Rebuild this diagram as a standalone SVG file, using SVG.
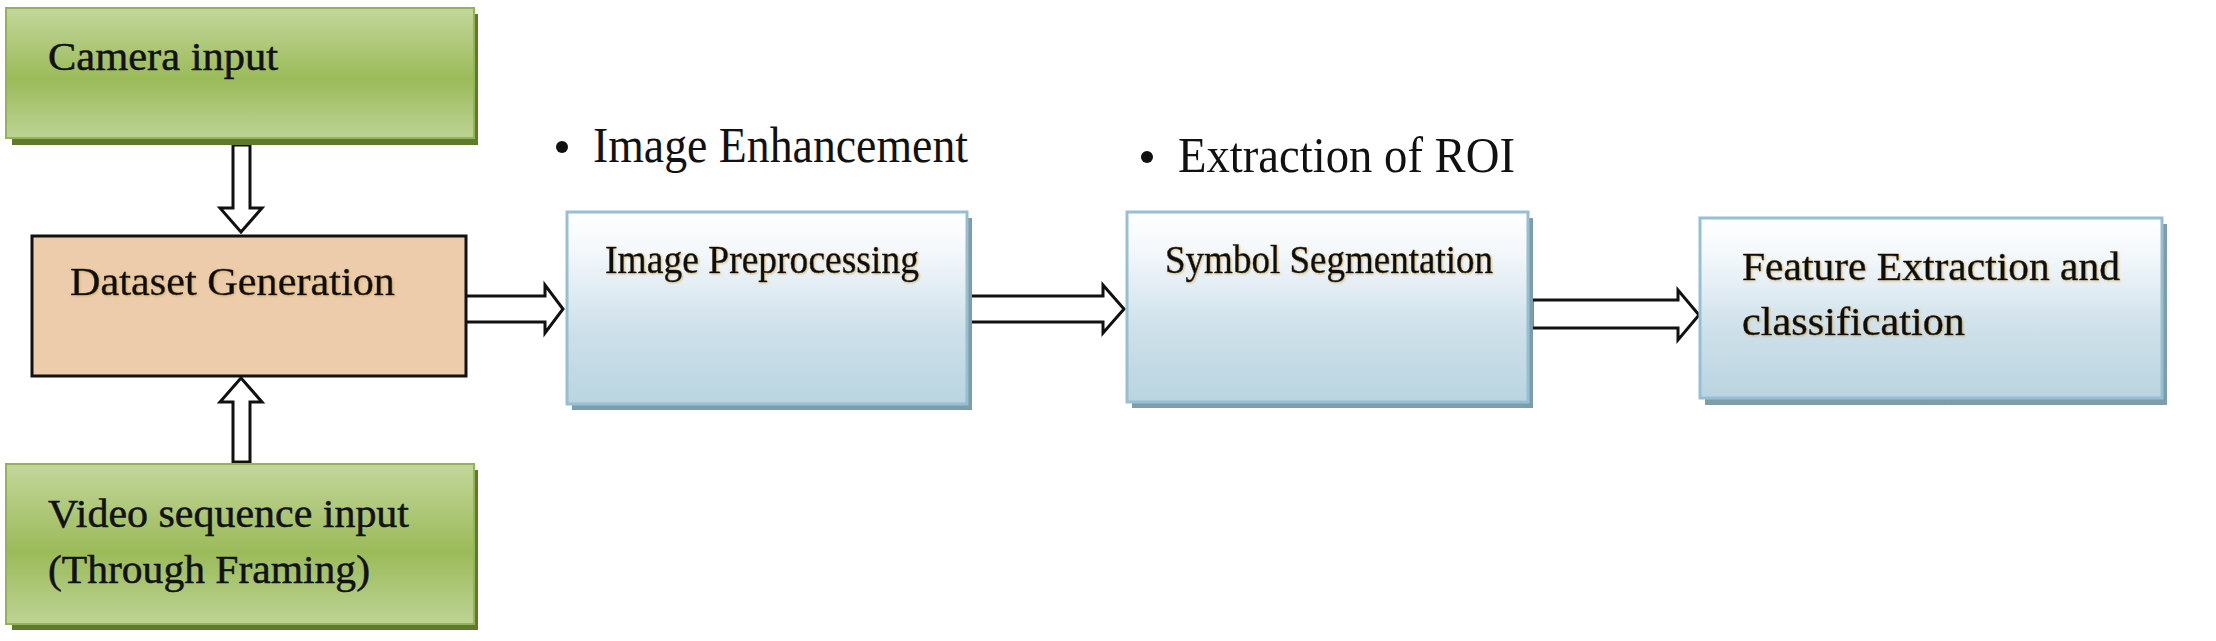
<svg xmlns="http://www.w3.org/2000/svg" width="2216" height="641" viewBox="0 0 2216 641">
<defs>
<linearGradient id="gGreen" x1="0" y1="0" x2="0" y2="1">
<stop offset="0" stop-color="#c3d69b"/>
<stop offset="0.55" stop-color="#9bbb59"/>
<stop offset="1" stop-color="#bdd395"/>
</linearGradient>
<linearGradient id="gBlue" x1="0" y1="0" x2="0" y2="1">
<stop offset="0" stop-color="#ffffff"/>
<stop offset="0.2" stop-color="#f4f8fb"/>
<stop offset="0.6" stop-color="#cfe1ea"/>
<stop offset="1" stop-color="#b9d4e0"/>
</linearGradient>
<filter id="ts" x="-5%" y="-20%" width="110%" height="140%">
<feGaussianBlur in="SourceAlpha" stdDeviation="1"/>
<feOffset dx="1" dy="1" result="o"/>
<feFlood flood-color="#c8a24a" flood-opacity="0.6"/>
<feComposite in2="o" operator="in"/>
<feMerge><feMergeNode/><feMergeNode in="SourceGraphic"/></feMerge>
</filter>
</defs>
<style>
.lbl{font-family:"Liberation Serif","Times New Roman",serif;font-size:41px;fill:#111;stroke:#111;stroke-width:0.5}
.bul{font-family:"Liberation Serif","Times New Roman",serif;font-size:50px;fill:#111}
.green{fill:url(#gGreen);stroke:#93b354;stroke-width:2}
.gshadow{fill:#5f7a2c}
.blue{fill:url(#gBlue);stroke:#95bfd3;stroke-width:3}
.bshadow{fill:#7f9ca9}
.arrow{fill:#ffffff;stroke:#111;stroke-width:3;stroke-linejoin:miter}
</style>
<rect width="2216" height="641" fill="#ffffff"/>

<g id="connectors">
<path class="arrow" d="M233,145 L250,145 L250,208 L262,208 L241,232 L220,208 L233,208 Z"/>
<path class="arrow" d="M233,462 L250,462 L250,402 L262,402 L241,378 L220,402 L233,402 Z"/>
<path class="arrow" d="M464,296 L545,296 L545,285 L563,309 L545,333 L545,322 L464,322 Z"/>
<path class="arrow" d="M966,296 L1103,296 L1103,285 L1124,309 L1103,333 L1103,322 L966,322 Z"/>
<path class="arrow" d="M1532,300 L1678,300 L1678,290 L1699,315 L1678,340 L1678,328 L1532,328 Z"/>
<path d="M1924,404 Q1935,396 1946,404" fill="none" stroke="#222" stroke-width="3"/>
</g>

<g id="camera">
<rect x="12" y="14" width="466" height="131" class="gshadow"/>
<rect x="6" y="8" width="468" height="130" class="green"/>
<text x="48" y="70" class="lbl" textLength="230" lengthAdjust="spacingAndGlyphs">Camera input</text>
</g>

<g id="dataset">
<rect x="32" y="236" width="434" height="140" fill="#ecccaa" stroke="#111" stroke-width="3"/>
<text x="70" y="295" class="lbl" filter="url(#ts)" textLength="325" lengthAdjust="spacingAndGlyphs">Dataset Generation</text>
</g>

<g id="video">
<rect x="12" y="470" width="466" height="160" class="gshadow"/>
<rect x="6" y="464" width="468" height="160" class="green"/>
<text x="48" y="527" class="lbl" textLength="361" lengthAdjust="spacingAndGlyphs">Video sequence input</text>
<text x="48" y="583" class="lbl" textLength="322" lengthAdjust="spacingAndGlyphs">(Through Framing)</text>
</g>

<g id="enhance">
<circle cx="562" cy="147" r="6" fill="#111"/>
<text x="593" y="162" class="bul" textLength="375" lengthAdjust="spacingAndGlyphs">Image Enhancement</text>
</g>

<g id="preproc">
<rect x="572" y="218" width="400" height="192" class="bshadow"/>
<rect x="567" y="212" width="400" height="192" class="blue"/>
<text x="605" y="273" class="lbl" filter="url(#ts)" textLength="314" lengthAdjust="spacingAndGlyphs">Image Preprocessing</text>
</g>

<g id="roi">
<circle cx="1147" cy="157" r="6" fill="#111"/>
<text x="1178" y="172" class="bul" textLength="337" lengthAdjust="spacingAndGlyphs">Extraction of ROI</text>
</g>

<g id="segment">
<rect x="1132" y="218" width="401" height="190" class="bshadow"/>
<rect x="1127" y="212" width="401" height="190" class="blue"/>
<text x="1165" y="273" class="lbl" filter="url(#ts)" textLength="328" lengthAdjust="spacingAndGlyphs">Symbol Segmentation</text>
</g>

<g id="feature">
<rect x="1705" y="224" width="462" height="181" class="bshadow"/>
<rect x="1700" y="218" width="462" height="180" class="blue"/>
<text x="1742" y="280" class="lbl" filter="url(#ts)" textLength="378" lengthAdjust="spacingAndGlyphs">Feature Extraction and</text>
<text x="1742" y="335" class="lbl" filter="url(#ts)" textLength="223" lengthAdjust="spacingAndGlyphs">classification</text>
</g>
</svg>
